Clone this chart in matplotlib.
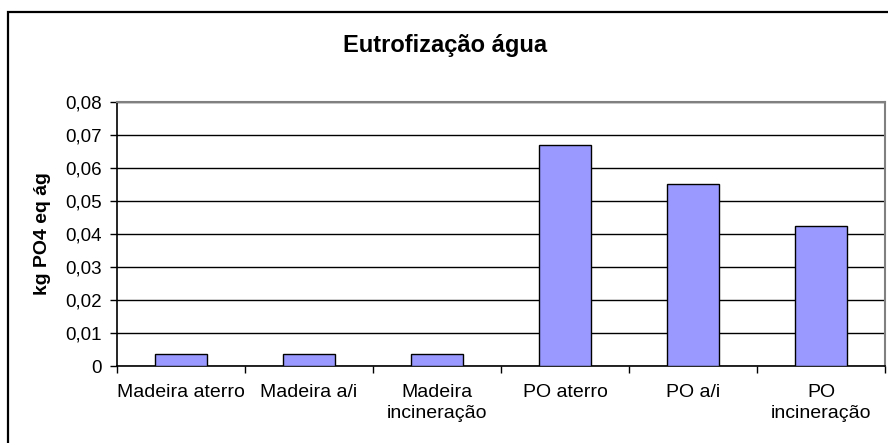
import matplotlib.pyplot as plt
from matplotlib.patches import Rectangle
from matplotlib.ticker import FuncFormatter

plt.rcParams['font.family'] = ['Liberation Sans', 'DejaVu Sans']

categories = ["Madeira aterro", "Madeira a/i", "Madeira\nincineração",
              "PO aterro", "PO a/i", "PO\nincineração"]
values = [0.0035, 0.0035, 0.0035, 0.067, 0.055, 0.0423]
yticks = [0, 0.01, 0.02, 0.03, 0.04, 0.05, 0.06, 0.07, 0.08]

fig = plt.figure(figsize=(8.88, 4.43), dpi=100)
ax = fig.add_axes([0.1318, 0.1738, 0.8648, 0.596])

# outer chart frame (runs off the right and bottom edges)
fig.patches.append(Rectangle((8 / 888, -0.1), 1.2, (443 - 12) / 443 + 0.1,
                             transform=fig.transFigure, fill=False,
                             edgecolor='black', linewidth=1.6, zorder=0))

x = list(range(len(categories)))
ax.bar(x, values, width=0.41, color='#9999FF', edgecolor='black',
       linewidth=1.0, zorder=3)

ax.set_xlim(-0.5, len(categories) - 0.5)
ax.set_ylim(0, 0.08)
ax.set_yticks(yticks)
ax.yaxis.set_major_formatter(FuncFormatter(
    lambda v, p: '0' if v == 0 else f'{v:.2f}'.replace('.', ',')))
ax.grid(axis='y', color='black', linewidth=1.0, zorder=1)

ax.set_xticks(x)
ax.set_xticklabels(categories, fontsize=14, linespacing=1.3)
ax.tick_params(axis='x', length=0, pad=13)
ax.set_xticks([i + 0.5 for i in range(-1, len(categories))], minor=True)
ax.tick_params(axis='x', which='minor', length=5, width=1.0, direction='out')
ax.tick_params(axis='y', labelsize=13.5, length=5, width=1.0, pad=6)

for s in ['left', 'bottom']:
    ax.spines[s].set_color('black')
    ax.spines[s].set_linewidth(1.2)
for s in ['top', 'right']:
    ax.spines[s].set_color('#808080')
    ax.spines[s].set_linewidth(1.5)

ax.set_ylabel("kg PO4 eq ág", fontsize=14, fontweight='bold', labelpad=10)
fig.text(0.501, 0.898, "Eutrofização água", ha='center', va='center',
         fontsize=17, fontweight='bold')

fig.savefig('out.png', dpi=100)
